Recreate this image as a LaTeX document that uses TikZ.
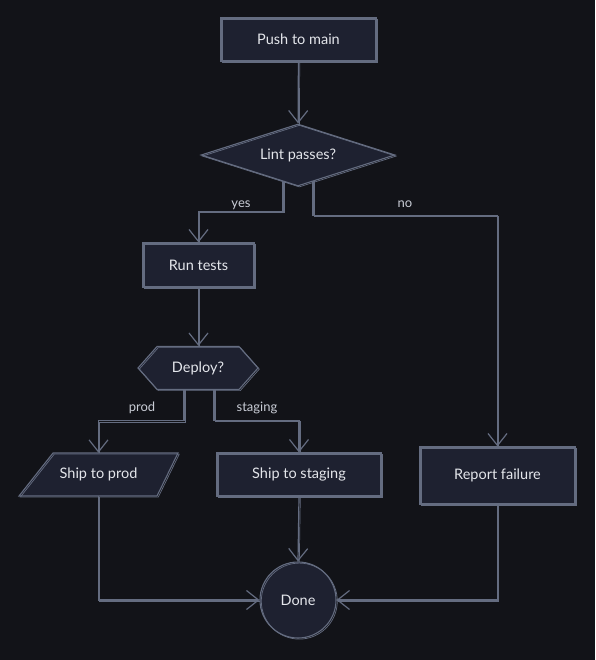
\documentclass[tikz,border=0pt]{standalone}
\usepackage{fontspec}
\setmainfont{Lato}
\usetikzlibrary{shapes.geometric,shapes.symbols,arrows.meta,backgrounds,calc}
\definecolor{bgc}{HTML}{121318}
\definecolor{nodefill}{HTML}{1E2130}
\definecolor{edgec}{HTML}{646C80}
\definecolor{txtc}{HTML}{E4E6EB}
\definecolor{lblc}{HTML}{C9CDD6}
\begin{document}
\begin{tikzpicture}[x=1pt,y=-1pt,
  sketch/.style={postaction={draw=edgec,line width=0.7pt,-,transform canvas={shift={(1.3pt,-1.1pt)}}}},
  outline/.style={draw=edgec, fill=nodefill, line width=1.1pt, sketch},
  box/.style={outline, text=txtc, font=\fontsize{14.5}{16}\selectfont, inner sep=0pt},
  txt/.style={text=txtc, font=\fontsize{14.5}{16}\selectfont, inner sep=0pt},
  arr/.style={draw=edgec, line width=1.2pt,
    -{Straight Barb[length=12pt,width=19pt,line width=1.2pt]}, sketch},
  lbl/.style={text=lblc, font=\fontsize{13}{15}\selectfont, inner sep=2pt}
]
\begin{scope}[on background layer]
  \fill[bgc] (0,0) rectangle (595,660);
\end{scope}
\useasboundingbox (0,0) rectangle (595,660);

\node[box, rectangle, minimum width=155, minimum height=43] (push) at (298.5,39.5) {Push to main};
\node[box, diamond, aspect=3.1, minimum width=194, minimum height=62] (lint) at (298,155) {Lint passes?};
\node[box, rectangle, minimum width=111, minimum height=44] (run) at (198.5,265) {Run tests};
\node[box, signal, signal to=east and west, signal pointer angle=97, minimum width=120, minimum height=43] (deploy) at (198,368) {Deploy?};
\draw[outline] (19,496) -- (53,453) -- (178,453) -- (157,496) -- cycle;
\node[txt, minimum width=124, minimum height=43] (prod) at (98.5,474.5) {Ship to prod};
\node[box, rectangle, minimum width=164, minimum height=43] (stag) at (299,474.5) {Ship to staging};
\node[box, rectangle, minimum width=155, minimum height=57] (fail) at (497.5,475.5) {Report failure};
\node[box, circle, minimum size=76] (done) at (298,600) {Done};

\begin{scope}[on background layer]
  \draw[arr] (push) -- (lint);
  \draw[arr] ([xshift=-15pt]lint.center) |- ([yshift=31pt]run.north) -- (run.north);
  \node[lbl, fill=bgc] (lyes) at (241,205) {yes};
  \draw[arr] ([xshift=15pt]lint.center) |- ([yshift=231pt]fail.north) -- (fail.north);
  \node[lbl] (lno) at (405,204) {no};
  \draw[arr] (run.south) -- (run.south |- deploy.north);
  \draw[arr] ([xshift=-14pt]deploy.center) |- ([yshift=32pt]prod.north) -- (prod.north);
  \node[lbl] (lprod) at (142,408) {prod};
  \draw[arr] ([xshift=16pt]deploy.center) |- ([yshift=32pt]stag.north) -- (stag.north);
  \node[lbl] (lstag) at (257,408) {staging};
  \draw[arr] (prod.south) |- (done.west);
  \draw[arr] (stag.south) -- (done.north);
  \draw[arr] (fail.south) |- (done.east);
\end{scope}
\end{tikzpicture}
\end{document}
